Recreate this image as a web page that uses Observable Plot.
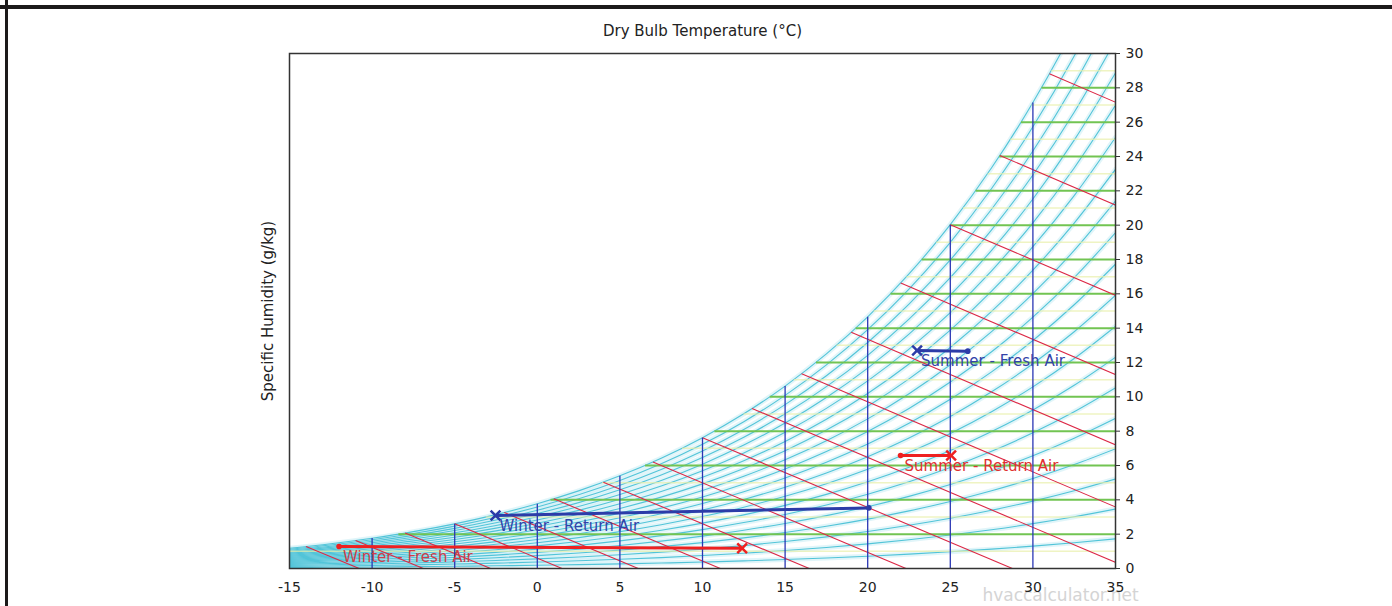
<!DOCTYPE html>
<html>
<head>
<meta charset="utf-8">
<script src="https://cdn.jsdelivr.net/npm/d3@7"></script>
<script src="https://cdn.jsdelivr.net/npm/@observablehq/plot@0.6"></script>
<style>
  html, body { margin: 0; padding: 0; background: #fff; }
  #wrap { position: relative; width: 1392px; height: 606px; overflow: hidden; background: #fff; }
  #topbar { position: absolute; left: 0; top: 5px; width: 1392px; height: 4px; background: #1c1a1a; }
  #leftbar { position: absolute; left: 5px; top: 0; width: 3px; height: 606px; background: #1c1a1a; }
  #chart { position: absolute; left: 0; top: 0; }
</style>
</head>
<body>
<div id="wrap"><div id="chart"></div><div id="topbar"></div><div id="leftbar"></div></div>
<script>
// ---- Data ----
const xTicks = [-15, -10, -5, 0, 5, 10, 15, 20, 25, 30, 35];
const yTicks = [0, 2, 4, 6, 8, 10, 12, 14, 16, 18, 20, 22, 24, 26, 28, 30];
const pAtm = 101.325; // kPa

// saturation vapour pressure table (kPa) by dry-bulb temperature
const satTemps = [-15, -12.5, -10, -7.5, -5, -2.5, 0, 2.5, 5, 7.5, 10, 12.5, 15, 17.5, 20, 22.5, 25, 27.5, 30, 32.5, 35];
const satPressure = [0.1917, 0.2349, 0.2868, 0.3485, 0.4219, 0.5087, 0.6109, 0.7311, 0.8716, 1.0354, 1.2260, 1.4469, 1.7020, 1.9959, 2.3335, 2.7200, 3.1617, 3.6649, 4.2368, 4.8848, 5.6173];
const rhLevels = [5, 10, 15, 20, 25, 30, 35, 40, 45, 50, 55, 60, 65, 70, 75, 80, 85, 90, 95, 100];

// dry-bulb isotherms: temperature and saturation humidity (g/kg)
const isoTemps = [-10, -5, 0, 5, 10, 15, 20, 25, 30];
const isoSatW = [1.77, 2.60, 3.77, 5.40, 7.62, 10.63, 14.66, 20.03, 27.14];

// humidity grid lines: level (g/kg) and dew-point start (°C)
const gridLevels = [2, 4, 6, 8, 10, 12, 14, 16, 18, 20, 22, 24, 26, 28];
const gridStart = [-8.41, 0.80, 6.52, 10.72, 14.07, 16.87, 19.27, 21.38, 23.27, 24.97, 26.53, 27.96, 29.28, 30.52];
const minorLevels = [1, 3, 5, 7, 9, 11, 13, 15, 17, 19, 21, 23, 25, 27, 29];
const minorStart = [-16.97, -3.11, 3.92, 8.76, 12.48, 15.53, 18.11, 20.36, 22.35, 24.14, 25.77, 27.26, 28.63, 29.91, 31.11];

// wet-bulb lines: wet-bulb temp, saturation humidity, dry-bulb at zero humidity
const wbTemps = [-14, -11, -8, -5, -2, 1, 4, 7, 10, 13, 16, 19, 22, 25, 28, 31];
const wbSatW = [1.28, 1.63, 2.07, 2.60, 3.26, 4.06, 5.03, 6.20, 7.62, 9.32, 11.34, 13.76, 16.63, 20.03, 24.06, 28.82];
const wbEndT = [-10.78, -6.90, -2.83, 1.50, 6.11, 11.08, 16.46, 22.32, 28.76, 35.88, 43.78, 52.60, 62.49, 73.65, 86.26, 100.58];

// process points
const seriesNames = ["Winter - Fresh Air", "Winter - Return Air", "Summer - Fresh Air", "Summer - Return Air"];
const seriesColors = ["#ee2020", "#2c3ca8", "#2c3ca8", "#ee2020"];
const labelColors = ["#cf3d48", "#3343a8", "#3343a8", "#e03030"];
const dotT = [-12.0, 20.07, 26.06, 21.99];
const dotW = [1.28, 3.53, 12.66, 6.58];
const crossT = [12.40, -2.53, 22.99, 25.05];
const crossW = [1.18, 3.09, 12.70, 6.58];

// ---- Derived tables ----
const rhData = rhLevels.flatMap(rh => satTemps.map((t, i) => {
  const pv = rh / 100 * satPressure[i];
  return {rh, t, w: 622 * pv / (pAtm - pv)};
}));
const isoData = isoTemps.map((t, i) => ({t, w: isoSatW[i]}));
const gridData = gridLevels.map((w, i) => ({w, t0: gridStart[i]}));
const minorData = minorLevels.map((w, i) => ({w, t0: minorStart[i]}));
const wbData = wbTemps.map((t, i) => ({t, w: wbSatW[i], tEnd: wbEndT[i]}));
const series = seriesNames.map((name, i) => ({
  name, color: seriesColors[i], lc: labelColors[i],
  t1: dotT[i], w1: dotW[i], t2: crossT[i], w2: crossW[i],
  lt: Math.min(dotT[i], crossT[i]),
  lw: dotT[i] < crossT[i] ? dotW[i] : crossW[i]
}));
const seriesPts = series.flatMap(s => [{name: s.name, t: s.t1, w: s.w1}, {name: s.name, t: s.t2, w: s.w2}]);

const chart = Plot.plot({
  width: 1392,
  height: 606,
  marginLeft: 289,
  marginRight: 277,
  marginTop: 53,
  marginBottom: 38,
  x: {domain: [-15, 35]},
  y: {domain: [0, 30]},
  style: {fontFamily: "'DejaVu Sans', sans-serif", fontSize: "14px", background: "transparent", color: "#222"},
  marks: [
    Plot.text(["hvaccalculator.net"], {frameAnchor: "bottom-right", dx: -55, dy: 27, fontSize: 17, fill: "#d4d4d4", textAnchor: "middle", lineAnchor: "middle"}),
    Plot.line(rhData, {x: "t", y: "w", z: "rh", stroke: "#cdeff5", strokeWidth: 5, strokeOpacity: 0.6, curve: "monotone-x", clip: true}),
    Plot.line(rhData, {x: "t", y: "w", z: "rh", stroke: "#52c4d8", strokeWidth: 1.1, curve: "monotone-x", clip: true}),
    Plot.link(minorData, {x1: "t0", x2: 35, y1: "w", y2: "w", stroke: "#e8f0aa", strokeWidth: 1.5, strokeOpacity: 0.7, clip: true}),
    Plot.link(gridData, {x1: "t0", x2: 35, y1: "w", y2: "w", stroke: "#72c452", strokeWidth: 2, clip: true}),
    Plot.link(wbData, {x1: "t", y1: "w", x2: "tEnd", y2: 0, stroke: "#dc2846", strokeWidth: 1.1, clip: true}),
    Plot.link(isoData, {x1: "t", x2: "t", y1: 0, y2: "w", stroke: "#2a36b4", strokeWidth: 1.3}),
    Plot.frame({stroke: "#333", strokeWidth: 1.5}),
    Plot.axisX(xTicks, {tickSize: 0, tickPadding: 14, tickFormat: d => String(d), label: null, fontSize: 14, fill: "#222"}),
    Plot.axisY(yTicks, {anchor: "right", tickSize: 4, tickPadding: 6, tickFormat: d => String(d), label: null, fontSize: 14, fill: "#222", stroke: "#333"}),
    Plot.line(seriesPts, {x: "t", y: "w", z: "name", stroke: d => series.find(s => s.name === d.name).color, strokeWidth: 3}),
    Plot.dot(series, {x: "t1", y: "w1", r: 2.8, fill: "color", stroke: null}),
    Plot.dot(series, {x: "t2", y: "w2", r: 4.5, symbol: "times", stroke: "color", strokeWidth: 2.5}),
    Plot.text(series, {x: "lt", y: "lw", text: "name", fill: "lc", dx: 4, dy: 11, textAnchor: "start", lineAnchor: "middle", fontSize: 15}),
    Plot.text(["Dry Bulb Temperature (°C)"], {frameAnchor: "top", dy: -22, fontSize: 15, fill: "#222", lineAnchor: "middle"}),
    Plot.text(["Specific Humidity (g/kg)"], {frameAnchor: "left", dx: -21, rotate: -90, fontSize: 15, fill: "#222", lineAnchor: "middle", textAnchor: "middle"})
  ]
});
document.getElementById("chart").appendChild(chart);
</script>
</body>
</html>
